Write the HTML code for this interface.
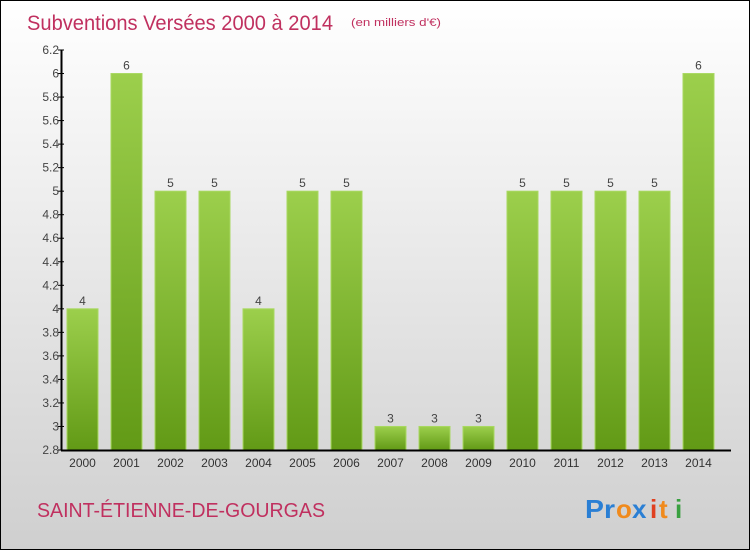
<!DOCTYPE html>
<html><head><meta charset="utf-8"><style>
body{margin:0}
#c{position:relative;width:748px;height:548px;border:1px solid #000;background:linear-gradient(#fff,#cfcfcf);font-family:"Liberation Sans",sans-serif;overflow:hidden}
</style></head><body>
<div id="c">
<svg id="s" width="748" height="548" style="position:absolute;left:0;top:0">
<text x="26" y="29" font-size="21" fill="#c0305f" textLength="306" lengthAdjust="spacingAndGlyphs">Subventions Versées 2000 à 2014</text>
<text x="350" y="25" font-size="11" fill="#c0305f" textLength="90" lengthAdjust="spacingAndGlyphs">(en milliers d'€)</text>
<text x="36" y="516" font-size="20" fill="#c0305f" textLength="288" lengthAdjust="spacingAndGlyphs">SAINT-ÉTIENNE-DE-GOURGAS</text>
<g font-size="26" font-weight="bold">
<text x="584" y="517" fill="#2a7fd4" textLength="30" lengthAdjust="spacingAndGlyphs">Pr</text><text x="615" y="517" fill="#f08a1c">o</text><text x="631" y="517" fill="#2a7fd4">x</text><text x="649" y="517" fill="#e04020">i</text><text x="658" y="517" fill="#f08a1c">t</text><text x="674" y="517" fill="#39a040">i</text>
</g>
<defs><linearGradient id="g" x1="0" y1="0" x2="0" y2="1"><stop offset="0" stop-color="#9ccf4c"/><stop offset="1" stop-color="#629a16"/></linearGradient></defs>
<g id="plot"></g>
</svg>
</div>
<script>
const years=["2000","2001","2002","2003","2004","2005","2006","2007","2008","2009","2010","2011","2012","2013","2014"];
const values=[4,6,5,5,4,5,5,3,3,3,5,5,5,5,6];
const labels=["4","6","5","5","4","5","5","3","3","3","5","5","5","5","6"];
const ticks=[2.8,3,3.2,3.4,3.6,3.8,4,4.2,4.4,4.6,4.8,5,5.2,5.4,5.6,5.8,6,6.2];
const ns="http://www.w3.org/2000/svg",p=document.getElementById('plot');
const y=v=>449-(v-2.8)/3.4*400, x=i=>66+i*44;
function el(t,a,txt){const e=document.createElementNS(ns,t);for(const k in a)e.setAttribute(k,a[k]);if(txt!=null)e.textContent=txt;p.appendChild(e);return e;}
values.forEach((v,i)=>{
 const r=el('rect',{x:x(i),y:y(v),width:31,height:y(2.8)-y(v),fill:'url(#g)',stroke:'#a8d860','stroke-width':1});
 
 
 const t=el('text',{x:x(i)+15.5,y:y(v)-4,'text-anchor':'middle','font-size':12,fill:'#444'},labels[i]);
 
 
 const xl=el('text',{x:x(i)+15.5,y:466,'text-anchor':'middle','font-size':12,fill:'#333'},years[i]);
 
 
});
ticks.forEach(v=>{
 el('line',{x1:57,x2:63,y1:y(v),y2:y(v),stroke:'#000'});
 const t=el('text',{x:58,y:y(v)+4,'text-anchor':'end','font-size':12,fill:'#444'},String(v));
 
 
});
const ya=el('line',{x1:60.5,x2:60.5,y1:y(6.2),y2:y(2.8)+0.5,stroke:'#000','stroke-width':2});


const xa=el('line',{x1:60,x2:730,y1:y(2.8)+0.5,y2:y(2.8)+0.5,stroke:'#000','stroke-width':2});


</script>
</body></html>
